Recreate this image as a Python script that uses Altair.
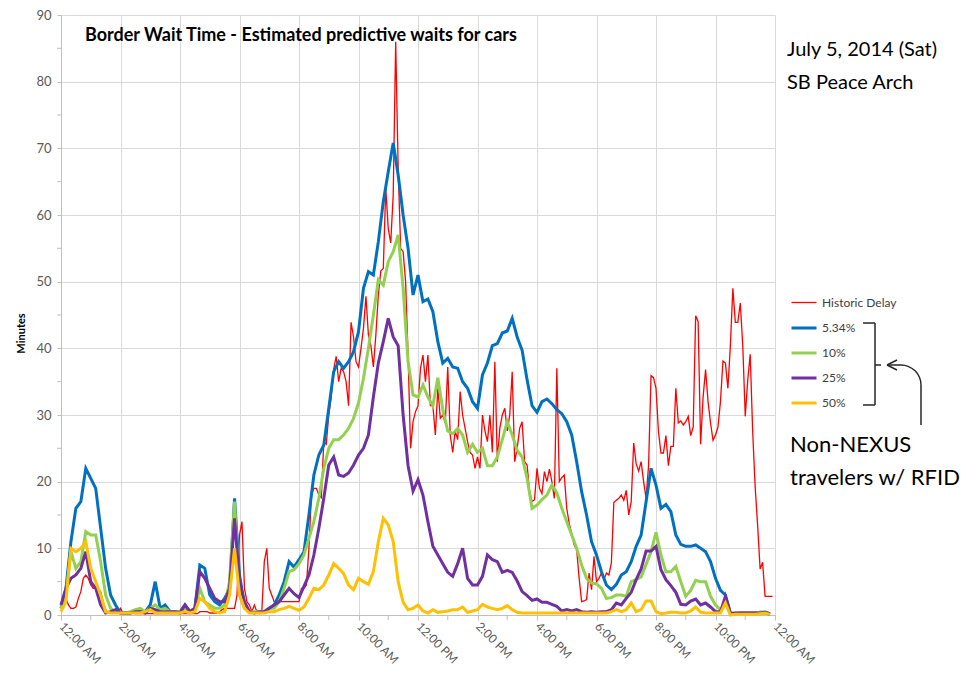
import json
import math
import altair as alt
import pandas as pd

SERIES = ["Historic Delay", "5.34%", "10%", "25%", "50%"]
COLORS = ["#FF0000", "#0070C0", "#92D050", "#7030A0", "#FFC000"]
WIDTHS = [1.3, 3, 3, 3, 3]
TICK_LABELS = ["12:00 AM", "2:00 AM", "4:00 AM", "6:00 AM", "8:00 AM", "10:00 AM",
               "12:00 PM", "2:00 PM", "4:00 PM", "6:00 PM", "8:00 PM", "10:00 PM", "12:00 AM"]
X_MINOR = [1, 3, 5, 7, 9, 11, 13, 15, 17, 19, 21, 23]
Y_MINOR = [5, 15, 25, 35, 45, 55, 65, 75, 85]
TITLE = "Border Wait Time - Estimated predictive waits for cars"
NOTE_TOP = ["July 5, 2014 (Sat)", "SB Peace Arch"]
NOTE_BOTTOM = ["Non-NEXUS", "travelers w/ RFID"]

# Historic delay, every 5 minutes from 0:00
HISTORIC = [
    1, 2, 2.5, 1.5, 1, 1, 1.2, 2.5, 3.5, 5.5, 6, 5.5,
    4.5, 4, 4, 4, 3.5, 2, 0.8, 0.3, 0.3, 0.3, 0.3, 0.5,
    1, 0.3, 0.2, 0.2, 0.2, 0.3, 0.2, 0.2, 0.2, 0.2, 0.2, 0.2,
    0.2, 0.2, 0.2, 0.2, 0.2, 0.2, 0.2, 0.2, 0.2, 0.2, 0.2, 0.2,
    0.2, 0.2, 0.2, 0.2, 0.2, 0.2, 0.2, 0.2, 0.5, 0.5, 0.5, 0.5,
    0.3, 0.3, 0.3, 0.3, 0.5, 0.8, 1, 1, 1, 1, 1, 3,
    12, 14, 4, 2, 1.5, 0.5, 1.5, 0.5, 0.2, 0.5, 8, 10,
    4, 3, 2, 1.5, 2, 2, 2, 2, 2, 2, 2, 2,
    2, 4, 4, 4.5, 10, 18, 19, 19, 18, 17.6, 26, 25.6,
    30, 32.7, 36.9, 38.8, 35, 37, 36.5, 35, 31.4, 43.9, 41.7, 38,
    37.2, 40, 43, 47.8, 42, 40.4, 37.2, 42, 48, 51.6, 52, 64,
    58, 55.8, 63, 86, 67, 55, 54.5, 50, 39, 25, 29, 30.5,
    31.4, 37, 39, 35, 39, 31.4, 31.4, 27, 34, 29.5, 30, 28.8,
    37.2, 27, 24.4, 27.6, 26.3, 33.5, 30, 28, 26, 24.4, 24, 22,
    23.7, 22, 30, 27.6, 26, 30, 24.4, 38, 23, 28, 30, 31,
    27.6, 30, 36.5, 23, 25, 28, 29, 23, 22.5, 18.6, 17, 17.3,
    22, 19, 18.2, 21.5, 20, 21.9, 20, 17.5, 37, 20, 20.6, 21,
    16, 13.7, 12.2, 10.5, 9.8, 5.5, 2, 2.1, 2.3, 6.3, 3.8, 8.8,
    5, 5.5, 6.3, 5.3, 6.3, 6, 7.8, 16.9, 17.2, 17.5, 18, 17.2,
    18.7, 15, 17, 25.8, 22.7, 21.6, 23, 20, 17.5, 22.4, 35.9, 35.6,
    34, 27.5, 24.3, 24.3, 26.9, 22.4, 25.3, 25.3, 34, 28.8, 29.1, 28.5,
    29, 29.8, 26.9, 28.2, 44.9, 44, 25.6, 32.7, 36.8, 32, 28.8, 26.2,
    27, 28.2, 32, 38.1, 37.8, 34, 40.4, 49, 43.9, 43.9, 46.8, 40.4,
    29.8, 35.2, 39.1, 27.5, 19.2, 13.4, 6.9, 7.9, 2.8, 2.8, 2.8, 2.8,
]

# Predictive waits, every 10 minutes from 0:00
P534 = [
    1, 4, 11, 16, 17, 22,
    20.5, 19, 13, 7, 3, 1.5,
    0.3, 0.3, 0.3, 0.5, 0.5, 0.5,
    1.5, 5, 1, 1.5, 0.5, 0.5,
    0.5, 1.5, 0.5, 1, 7.5, 7,
    3, 2, 1.5, 2.5, 4, 17.5,
    6, 1.5, 0.5, 0.3, 0.5, 0.5,
    1, 1.5, 3, 5, 8, 7.2,
    8.3, 9.5, 15, 21, 24, 25.5,
    31, 36.5, 38, 37, 38, 39.5,
    42.5, 49, 51.5, 51, 56, 62,
    66.5, 70.8, 66, 60, 55, 48,
    51, 47, 47.4, 45.5, 41, 37.8,
    38.5, 37.2, 37, 35, 34, 32,
    31, 36, 37.8, 40.4, 40.7, 42.3,
    42.6, 44.5, 41.7, 39.7, 35.3, 31.4,
    30.4, 32, 32.4, 31.7, 30.8, 30.2,
    29, 27, 23, 18.5, 15, 11,
    9, 6.5, 4.5, 3.8, 4.6, 6,
    6.5, 8, 10.3, 12, 17, 22,
    19.5, 16, 16.6, 15.5, 12, 10.6,
    10.3, 10.3, 10.5, 10, 9.5, 8,
    5.5, 3.7, 3, 0.3, 0.2, 0.3,
    0.3, 0.3, 0.3, 0.4, 0.3, 0.1,
]
P10 = [
    1, 3, 9.5, 7, 8, 12.5,
    12, 12, 8, 3, 1, 0.5,
    0.3, 0.3, 0.5, 0.8, 1, 0.5,
    1, 1.5, 0.8, 1, 0.5, 0.5,
    0.5, 1, 0.5, 1, 4, 2,
    1.5, 1, 1, 1.5, 5, 17,
    3, 1, 0.5, 0.5, 0.5, 0.5,
    1, 1, 2, 4, 6.5, 6.8,
    7.7, 9, 11.5, 14, 17.5, 22,
    25, 26.3, 26.3, 27, 28, 29.5,
    31.8, 35.5, 40, 45, 50.3, 49.5,
    53, 54.5, 57, 49, 38, 33,
    32.7, 34.5, 32.7, 31.4, 35.6, 30.8,
    27.6, 27.2, 28, 27, 24.4, 25.6,
    24.4, 25, 22.4, 22.4, 23.7, 26.3,
    29, 27, 24.7, 23.7, 20.5, 16,
    16.5, 17.3, 18, 19.5, 18.3, 16,
    14, 12, 10, 7.5, 5.5, 4.8,
    4.7, 4, 2.5, 2.6, 3, 3,
    2.8, 5, 5.3, 5.7, 7.6, 9.5,
    12.4, 9, 6.5, 6.5, 7.3, 5,
    2.8, 3.7, 5.2, 5, 5, 2.8,
    1.5, 0.8, 1.8, 0.2, 0.3, 0.3,
    0.3, 0.3, 0.3, 0.4, 0.5, 0.2,
]
P25 = [
    1.5, 4, 5.5, 6, 7, 9.5,
    5, 4, 1.5, 0.3, 0.5, 0.8,
    0.3, 0.3, 0.3, 0.5, 0.5, 0.3,
    1, 0.8, 0.5, 0.5, 0.5, 0.5,
    0.3, 1.5, 0.5, 1, 6.5, 5.5,
    4, 2.5, 2, 2, 4, 14.5,
    5, 2, 0.5, 0.3, 0.5, 0.5,
    1, 1.5, 2, 3, 4, 3.2,
    2.6, 4.3, 6, 9, 13, 17.5,
    22.5, 23.7, 21, 20.8, 21.3, 22.5,
    24, 25, 27, 32.7, 37.8, 41,
    44.5, 41.7, 40.4, 30, 22.4, 18.6,
    20.3, 18, 14, 10.3, 9, 7.7,
    6.4, 5.8, 7.7, 10, 5.5, 4.5,
    4.5, 5.8, 9, 8.3, 8, 6.4,
    6.7, 6.4, 5.1, 3.5, 2.9, 2.2,
    2.4, 1.9, 1.9, 1.6, 1.3, 0.6,
    0.8, 0.6, 0.8, 0.5, 0.4, 0.5,
    0.4, 0.5, 0.5, 0.8, 1.8, 1.5,
    2.5, 3.4, 5.3, 6.9, 9.6, 9.6,
    10.3, 6.8, 5.3, 4.4, 3.4, 1.6,
    1.5, 2.1, 2.4, 1.5, 1.8, 1.2,
    0.5, 0.5, 2.8, 0.2, 0.3, 0.3,
    0.3, 0.3, 0.3, 0.3, 0.4, 0.2,
]
P50 = [
    0.5, 2, 10, 9.5, 10, 11,
    7, 5, 3, 0.5, 0.3, 0.3,
    0.3, 0.3, 0.3, 0.3, 0.3, 0.5,
    0.8, 0.3, 0.3, 0.3, 0.3, 0.3,
    0.3, 0.5, 0.3, 0.5, 2.5, 2,
    1, 0.5, 0.3, 0.5, 3, 10,
    3, 1, 0.3, 0.3, 0.3, 0.3,
    0.5, 0.5, 0.8, 1, 1.3, 1,
    0.7, 1.2, 2.5, 4, 3.8, 4.5,
    6, 7.7, 7, 6.2, 4.5, 3.8,
    5.5, 5, 4.6, 6.5, 11, 14.5,
    13.5, 11, 5, 1.9, 0.8, 1,
    1.5, 0.6, 0.3, 0.8, 0.4, 0.5,
    0.6, 0.8, 0.8, 1.2, 0.4, 0.6,
    0.8, 1.6, 1.2, 1, 0.8, 1,
    1.4, 0.8, 0.4, 0.3, 0.3, 0.3,
    0.3, 0.3, 0.3, 0.3, 0.3, 0.3,
    0.3, 0.3, 0.3, 0.3, 0.3, 0.3,
    0.3, 0.3, 0.3, 0.5, 0.8, 0.5,
    0.8, 1.8, 0.5, 0.8, 2.1, 2.1,
    0.5, 0.2, 0.3, 0.4, 0.4, 0.3,
    0.3, 0.6, 1.2, 0.4, 0.3, 0.3,
    0.3, 0.3, 1.8, 0, 0.1, 0.1,
    0.1, 0.1, 0.1, 0.2, 0.3, 0.1,
]

rows = []
for i, v in enumerate(HISTORIC):
    rows.append({"hour": i * 5 / 60, "minutes": v, "series": SERIES[0]})
for name, vals in zip(SERIES[1:], [P534, P10, P25, P50]):
    for i, v in enumerate(vals):
        rows.append({"hour": i * 10 / 60, "minutes": v, "series": name})
df = pd.DataFrame(rows)

FONT = "Lato"
GRID = "#d9d9d9"
AXIS = "#bfbfbf"
legend = alt.Legend(
    title=None, orient="none", legendX=729, legendY=274,
    symbolType="stroke", symbolSize=625, rowPadding=5, labelOffset=4,
    labelFontSize=12, labelFont=FONT, labelColor="#404040", padding=0,
)

x_scale = alt.Scale(domain=[0, 24], nice=False, zero=False)
y_scale = alt.Scale(domain=[0, 90], nice=False)

x_axis = alt.Axis(values=list(range(0, 25, 2)),
                  labelExpr=f"{json.dumps(TICK_LABELS)}[round(datum.value / 2)]",
                  labelAngle=45, labelAlign="left", labelBaseline="middle",
                  labelFont=FONT, labelFontSize=12, labelColor="#595959",
                  labelPadding=4, tickSize=5, tickColor=AXIS,
                  domainColor=AXIS, gridColor=GRID)
y_axis = alt.Axis(values=list(range(0, 91, 10)),
                  labelFont=FONT, labelFontSize=13, labelColor="#595959",
                  labelPadding=6, tickSize=4, tickColor=AXIS,
                  domainColor=AXIS, gridColor=GRID,
                  titleFont=FONT, titleFontSize=11, titleFontWeight="bold",
                  titleColor="#000000", titlePadding=9, titleY=318)

lines = alt.Chart(df).mark_line().encode(
    x=alt.X("hour:Q", title=None, scale=x_scale, axis=x_axis),
    y=alt.Y("minutes:Q", title="Minutes", scale=y_scale, axis=y_axis),
    color=alt.Color("series:N", scale=alt.Scale(domain=SERIES, range=COLORS), legend=legend),
    strokeWidth=alt.StrokeWidth("series:N",
                                scale=alt.Scale(type="ordinal", domain=SERIES, range=WIDTHS),
                                legend=legend),
)

# minor ticks through the shared scales
x_minor = alt.Chart(pd.DataFrame({"hour": X_MINOR})).mark_rule(color=AXIS).encode(
    x=alt.X("hour:Q", title=None, scale=x_scale, axis=x_axis),
    y=alt.value(600), y2=alt.value(605))
y_minor = alt.Chart(pd.DataFrame({"minutes": Y_MINOR})).mark_rule(color=AXIS).encode(
    y=alt.Y("minutes:Q", title="Minutes", scale=y_scale, axis=y_axis),
    x=alt.value(-4), x2=alt.value(0))

ONE = pd.DataFrame({"k": [0]})

def text(s, x, y, size, weight="normal"):
    return alt.Chart(ONE).mark_text(
        text=s, align="left", baseline="alphabetic", font=FONT, fontSize=size,
        fontWeight=weight, color="#000000",
    ).encode(x=alt.value(x), y=alt.value(y))

def seg(x1, y1, x2, y2):
    return alt.Chart(ONE).mark_rule(color="#262626", strokeWidth=1.5).encode(
        x=alt.value(x1), y=alt.value(y1), x2=alt.value(x2), y2=alt.value(y2))

OY = 3  # plot area starts 3px lower than in the first layout
title = text(TITLE, 24, 29 - OY, 18, "bold")
n1 = text(NOTE_TOP[0], 726, 44 - OY, 20)
n2 = text(NOTE_TOP[1], 726, 77 - OY, 20)
n3 = text(NOTE_BOTTOM[0], 729, 440 - OY, 22)
n4 = text(NOTE_BOTTOM[1], 729, 473 - OY, 22)

# brace
brace = [seg(802, 311 - OY, 814, 311 - OY), seg(814, 311 - OY, 814, 393 - OY),
         seg(802, 393 - OY, 814, 393 - OY), seg(814, 353 - OY, 820, 353 - OY)]
# arrow
arc = alt.Chart(ONE).mark_arc(theta=0, theta2=math.pi / 2, radius=20.7, radius2=19.3,
                               color="#262626").encode(x=alt.value(840), y=alt.value(373 - OY))
arrow = [seg(826, 353 - OY, 840, 353 - OY), seg(860, 373 - OY, 860, 413 - OY),
         seg(826, 353 - OY, 836, 348 - OY), seg(826, 353 - OY, 836, 358 - OY)]

chart = alt.layer(lines, x_minor, y_minor, title, n1, n2, n3, n4, *brace, arc, *arrow).properties(
    width=714, height=600,
    autosize=alt.AutoSizeParams(type="none"),
    padding={"left": 53, "top": 7, "right": 197, "bottom": 52},
).configure(background="white").configure_view(stroke=None)

chart.save("out.html", embed_options={"renderer": "svg", "actions": False})
